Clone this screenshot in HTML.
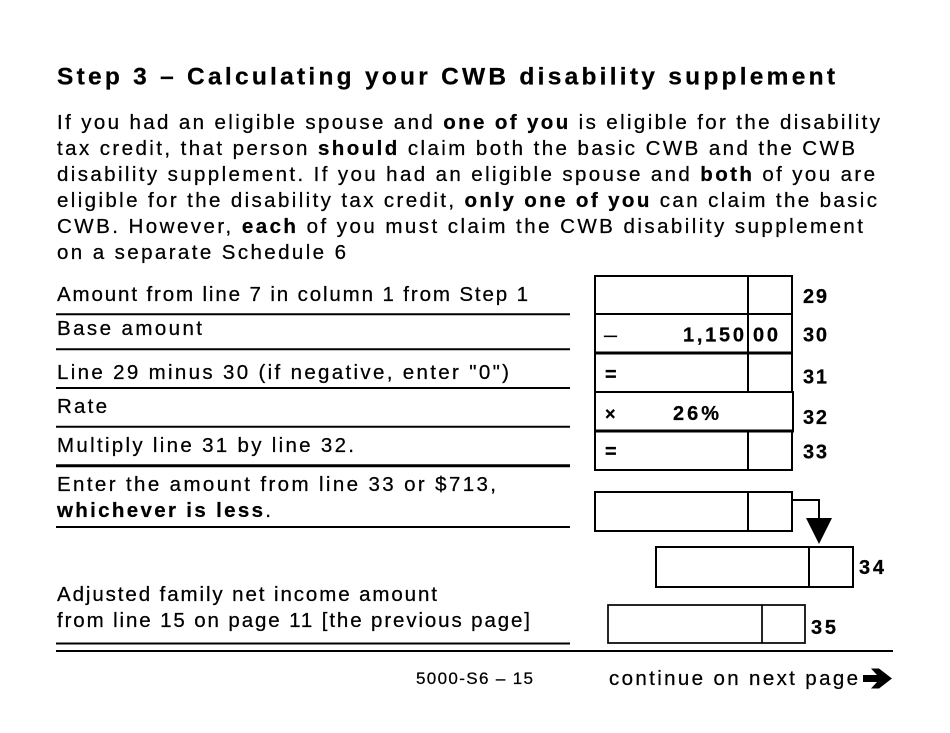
<!DOCTYPE html>
<html>
<head>
<meta charset="utf-8">
<style>
  html, body { margin:0; padding:0; background:#fff; }
  body { width:950px; height:733px; overflow:hidden; }
  svg { display:block; }
  text { font-family: "Liberation Sans", Arial, sans-serif; fill:#000; stroke:#000; stroke-width:0.25px; }
  .b { font-weight:bold; }
</style>
</head>
<body>
<svg width="950" height="733" viewBox="0 0 950 733" xmlns="http://www.w3.org/2000/svg">
  <rect x="0" y="0" width="950" height="733" fill="#fff"/>

  <!-- Heading -->
  <text x="57" y="84.5" font-size="24.5" class="b" textLength="778" lengthAdjust="spacing">Step 3 – Calculating your CWB disability supplement</text>

  <!-- Paragraph -->
  <g font-size="20.5">
    <text x="57" y="129" textLength="823" lengthAdjust="spacing">If you had an eligible spouse and <tspan class="b">one of you</tspan> is eligible for the disability</text>
    <text x="57" y="155" textLength="798" lengthAdjust="spacing">tax credit, that person <tspan class="b">should</tspan> claim both the basic CWB and the CWB</text>
    <text x="57" y="181" textLength="818" lengthAdjust="spacing">disability supplement. If you had an eligible spouse and <tspan class="b">both</tspan> of you are</text>
    <text x="57" y="207" textLength="820" lengthAdjust="spacing">eligible for the disability tax credit, <tspan class="b">only one of you</tspan> can claim the basic</text>
    <text x="57" y="233" textLength="806" lengthAdjust="spacing">CWB. However, <tspan class="b">each</tspan> of you must claim the CWB disability supplement</text>
    <text x="57" y="259" textLength="289" lengthAdjust="spacing">on a separate Schedule 6</text>
  </g>

  <!-- Labels -->
  <g font-size="20.5">
    <text x="57" y="301" textLength="471" lengthAdjust="spacing">Amount from line 7 in column 1 from Step 1</text>
    <text x="57" y="335" textLength="145" lengthAdjust="spacing">Base amount</text>
    <text x="57" y="379" textLength="452" lengthAdjust="spacing">Line 29 minus 30 (if negative, enter "0")</text>
    <text x="57" y="413" textLength="50" lengthAdjust="spacing">Rate</text>
    <text x="57" y="452" textLength="297" lengthAdjust="spacing">Multiply line 31 by line 32.</text>
    <text x="57" y="491" textLength="439" lengthAdjust="spacing">Enter the amount from line 33 or $713,</text>
    <text x="57" y="517" textLength="214" lengthAdjust="spacing"><tspan class="b">whichever is less</tspan>.</text>
    <text x="57" y="601" textLength="380" lengthAdjust="spacing">Adjusted family net income amount</text>
    <text x="57" y="627" textLength="473" lengthAdjust="spacing">from line 15 on page 11 [the previous page]</text>
  </g>

  <!-- Underlines -->
  <g stroke="#000" stroke-width="2">
    <line x1="56" y1="314.3" x2="570" y2="314.3"/>
    <line x1="56" y1="349.3" x2="570" y2="349.3"/>
    <line x1="56" y1="388" x2="570" y2="388"/>
    <line x1="56" y1="426.7" x2="570" y2="426.7"/>
    <line x1="56" y1="465.7" x2="570" y2="465.7" stroke-width="3"/>
    <line x1="56" y1="527" x2="570" y2="527"/>
    <line x1="56" y1="643.5" x2="570" y2="643.5"/>
    <line x1="56" y1="651" x2="893" y2="651"/>
  </g>

  <!-- Main box stack -->
  <g stroke="#000" fill="none">
    <line x1="595" y1="275" x2="595" y2="471" stroke-width="2"/>
    <line x1="792" y1="275" x2="792" y2="392" stroke-width="2"/>
    <line x1="793" y1="392" x2="793" y2="431" stroke-width="2"/>
    <line x1="792" y1="431" x2="792" y2="471" stroke-width="2"/>
    <line x1="594" y1="276" x2="793" y2="276" stroke-width="2"/>
    <line x1="594" y1="314" x2="793" y2="314" stroke-width="2"/>
    <line x1="594" y1="353" x2="793" y2="353" stroke-width="3"/>
    <line x1="594" y1="392" x2="794" y2="392" stroke-width="2"/>
    <line x1="594" y1="431" x2="794" y2="431" stroke-width="3"/>
    <line x1="594" y1="470" x2="793" y2="470" stroke-width="2"/>
    <line x1="748" y1="276" x2="748" y2="392" stroke-width="2"/>
    <line x1="748" y1="431" x2="748" y2="470" stroke-width="2"/>
  </g>

  <!-- Box contents -->
  <g font-size="20" class="b">
    <text x="604" y="341.5" textLength="13" lengthAdjust="spacingAndGlyphs" style="font-weight:normal">–</text>
    <text x="683" y="341.7" textLength="61" lengthAdjust="spacing">1,150</text>
    <text x="753" y="341.7" textLength="25" lengthAdjust="spacing">00</text>
    <text x="605" y="381">=</text>
    <text x="605" y="420" font-size="18">×</text>
    <text x="673" y="420" textLength="46" lengthAdjust="spacing">26%</text>
    <text x="605" y="458">=</text>
  </g>

  <!-- Line numbers -->
  <g font-size="20" class="b">
    <text x="803" y="303" textLength="24" lengthAdjust="spacing">29</text>
    <text x="803" y="341.7" textLength="24" lengthAdjust="spacing">30</text>
    <text x="803" y="383.5" textLength="24" lengthAdjust="spacing">31</text>
    <text x="803" y="424" textLength="24" lengthAdjust="spacing">32</text>
    <text x="803" y="458.5" textLength="24" lengthAdjust="spacing">33</text>
    <text x="859" y="574" textLength="25" lengthAdjust="spacing">34</text>
    <text x="811" y="634" textLength="25" lengthAdjust="spacing">35</text>
  </g>

  <!-- Lower boxes -->
  <g stroke="#000" fill="none" stroke-width="2">
    <rect x="595" y="492" width="197" height="39"/>
    <line x1="748" y1="492" x2="748" y2="531"/>
    <polyline points="792,500 819,500 819,520"/>
    <rect x="656" y="547" width="197" height="40"/>
    <line x1="809" y1="547" x2="809" y2="587"/>
    <rect x="608" y="605" width="197" height="38" stroke-width="1.7"/>
    <line x1="762" y1="605" x2="762" y2="643" stroke-width="1.7"/>
  </g>
  <polygon points="806,518 832,518 819,544" fill="#000"/>

  <!-- Footer -->
  <text x="416" y="684" font-size="17" textLength="117" lengthAdjust="spacing">5000-S6 – 15</text>
  <text x="609" y="685" font-size="20.5" textLength="249" lengthAdjust="spacing">continue on next page</text>
  <polygon points="863,675 877,675 871,668.5 879,668.5 892,678.5 879,688.5 871,688.5 877,682 863,682" fill="#000"/>
</svg>
</body>
</html>
